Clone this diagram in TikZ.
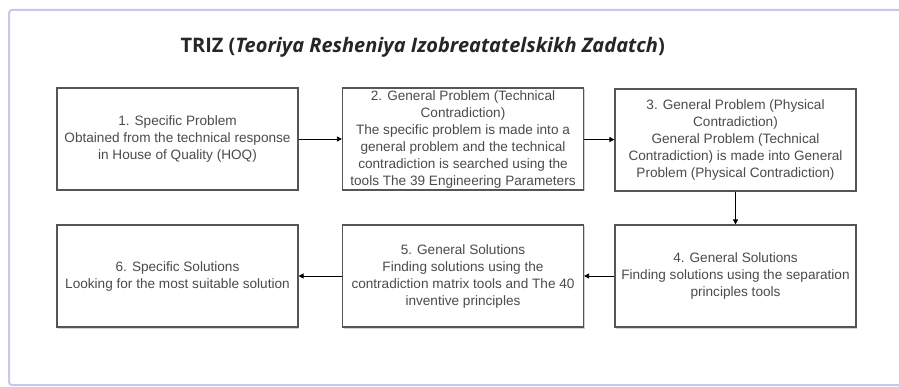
\documentclass[tikz,border=0pt]{standalone}
\usepackage{fontspec}
\setmainfont{Liberation Sans}
\newfontfamily\titlefont{Open Sans}
\usetikzlibrary{arrows.meta,shadows}
\definecolor{frame}{RGB}{200,200,232}
\definecolor{boxline}{RGB}{85,85,85}
\definecolor{txt}{RGB}{75,75,75}
\tikzset{
  stepbox/.style={draw=boxline, line width=1.2pt, fill=white, minimum width=241pt, minimum height=102pt,
    align=center, font=\fontsize{13.6}{17}\selectfont, text=txt, inner sep=1pt,
    drop shadow={shadow xshift=1pt, shadow yshift=-1.5pt, opacity=0.35}},
  conn/.style={draw=black, line width=0.8pt, -{Triangle[length=5pt,width=5pt]}}
}
\begin{document}
\begin{tikzpicture}[x=1pt,y=-1pt]
\useasboundingbox (0,0) rectangle (899,387);
\begin{scope}
\clip (0,0) rectangle (899,387);
\draw[frame, line width=2pt, fill=white, rounded corners=3pt] (9,10) rectangle (910,385);
\end{scope}
\node[anchor=west, font=\titlefont\bfseries\fontsize{20}{24}\selectfont, text=black!85] (title) at (177,47)
  {TRIZ (\textit{Teoriya Resheniya Izobreatatelskikh Zadatch})};
\node[stepbox] (b1) at (177.5,139) {1. Specific Problem\\Obtained from the technical response\\in House of Quality (HOQ)};
\node[stepbox] (b2) at (463,139) {2. General Problem (Technical\\Contradiction)\\The specific problem is made into a\\general problem and the technical\\contradiction is searched using the\\tools The 39 Engineering Parameters};
\node[stepbox] (b3) at (735.5,140) {3. General Problem (Physical\\Contradiction)\\General Problem (Technical\\Contradiction) is made into General\\Problem (Physical Contradiction)};
\node[stepbox] (b4) at (735.5,276) {4. General Solutions\\Finding solutions using the separation\\principles tools};
\node[stepbox] (b5) at (463,276) {5. General Solutions\\Finding solutions using the\\contradiction matrix tools and The 40\\inventive principles};
\node[stepbox] (b6) at (177.5,276) {6. Specific Solutions\\Looking for the most suitable solution};
\draw[conn] (b1) -- (b2);
\draw[conn] (b2) -- (b3);
\draw[conn] (b3) -- (b4);
\draw[conn] (b4) -- (b5);
\draw[conn] (b5) -- (b6);
\end{tikzpicture}
\end{document}
